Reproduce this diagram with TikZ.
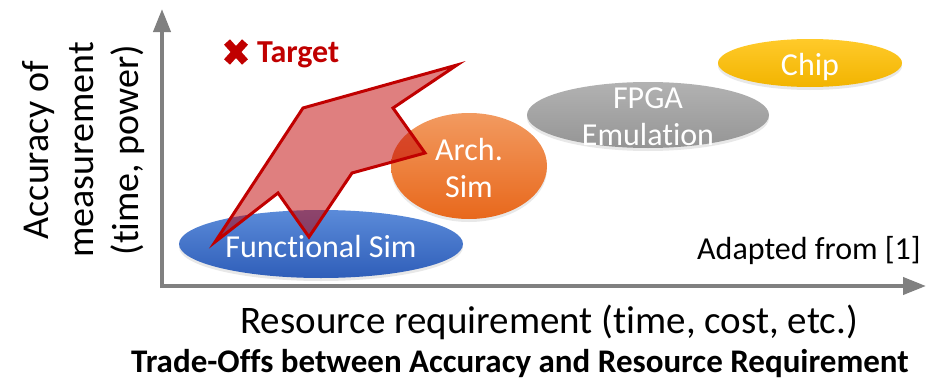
\documentclass[tikz,border=0pt]{standalone}
\usepackage{fontspec}
\setmainfont{Carlito}[Ligatures=NoCommon]
\usetikzlibrary{arrows.meta,shapes.geometric,shadows}
\definecolor{axisgray}{HTML}{808080}
\definecolor{tred}{HTML}{C00000}
\definecolor{blueT}{HTML}{5B8BD9}
\definecolor{blueB}{HTML}{2F5EB9}
\definecolor{orgT}{HTML}{F29A60}
\definecolor{orgB}{HTML}{E8681C}
\definecolor{grayT}{HTML}{B2B2B2}
\definecolor{grayB}{HTML}{959595}
\definecolor{yelT}{HTML}{FFCA2A}
\definecolor{yelB}{HTML}{F2B400}
\tikzset{
  blob/.style={ellipse, draw=none, inner sep=0pt,
    drop shadow={opacity=0.18, shadow xshift=0pt, shadow yshift=-3pt}},
  lbl/.style={text=white, align=center, font=\fontsize{32}{37}\selectfont, inner sep=0pt},
  axis/.style={draw=axisgray, line width=4pt, -{Triangle[width=17pt,length=23pt]}},
}
\begin{document}
\begin{tikzpicture}[x=1pt,y=-1pt]
\useasboundingbox (0,0) rectangle (938,380);
% axes
\coordinate (O) at (162,286);
\coordinate (Ytop) at (162,9);
\coordinate (Xend) at (926,286);
\draw[axis] ([yshift=-2pt]O) -- (Ytop);
\draw[axis] ([xshift=-2pt]O) -- (Xend);
% ellipses
\node[blob, minimum width=284pt, minimum height=68pt, top color=blueT, bottom color=blueB] (fs) at (321,244) {};
\node[blob, minimum width=156pt, minimum height=106pt, top color=orgT, bottom color=orgB] (as) at (469,166) {};
\node[blob, minimum width=242pt, minimum height=66pt, top color=grayT, bottom color=grayB] (fpga) at (648,115) {};
\node[blob, minimum width=184pt, minimum height=48pt, top color=yelT, bottom color=yelB] (chip) at (810,63) {};
% target region
\draw[line width=3pt, draw=tred, fill=tred, fill opacity=0.5, line join=miter]
  (215,242) -- (303,108) -- (457,65) -- (393,108) -- (425,153) -- (352,173)
  -- (309,237) -- (278,193) -- cycle;
% labels
\node[lbl, anchor=base] (fst) at (321,257) {Functional Sim};
\node[lbl, anchor=base] (ast) at (469,197) {Arch.\\Sim};
\node[lbl, anchor=base] (fpgat) at (648,145) {FPGA\\Emulation};
\node[lbl, anchor=base] (chipt) at (810,75) {Chip};
% target marker
\coordinate (xc) at (236,52);
\draw[tred, line width=8pt] ([shift={(-9,-10)}]xc) -- ([shift={(9,10)}]xc);
\draw[tred, line width=8pt] ([shift={(-9,10)}]xc) -- ([shift={(9,-10)}]xc);
\node[anchor=base west, inner sep=0pt, text=tred, font=\bfseries\fontsize{32}{37}\selectfont] (tgt) at (257,62) {Target};
% other text
\node[anchor=base east, inner sep=0pt, font=\fontsize{32}{37}\selectfont] (adp) at (921,259) {Adapted from [1]};
\node[anchor=base, inner sep=0pt, font=\fontsize{39}{45}\selectfont] (xl) at (549,333) {Resource requirement (time, cost, etc.)};
\node[anchor=base, inner sep=0pt, font=\bfseries\fontsize{33}{37}\selectfont] (cap) at (520,372) {Trade-Offs between Accuracy and Resource Requirement};
\node[rotate=90, align=center, inner sep=0pt, font=\fontsize{38}{45}\selectfont] (yl) at (84,150) {Accuracy of\\measurement\\(time, power)};
\end{tikzpicture}
\end{document}
